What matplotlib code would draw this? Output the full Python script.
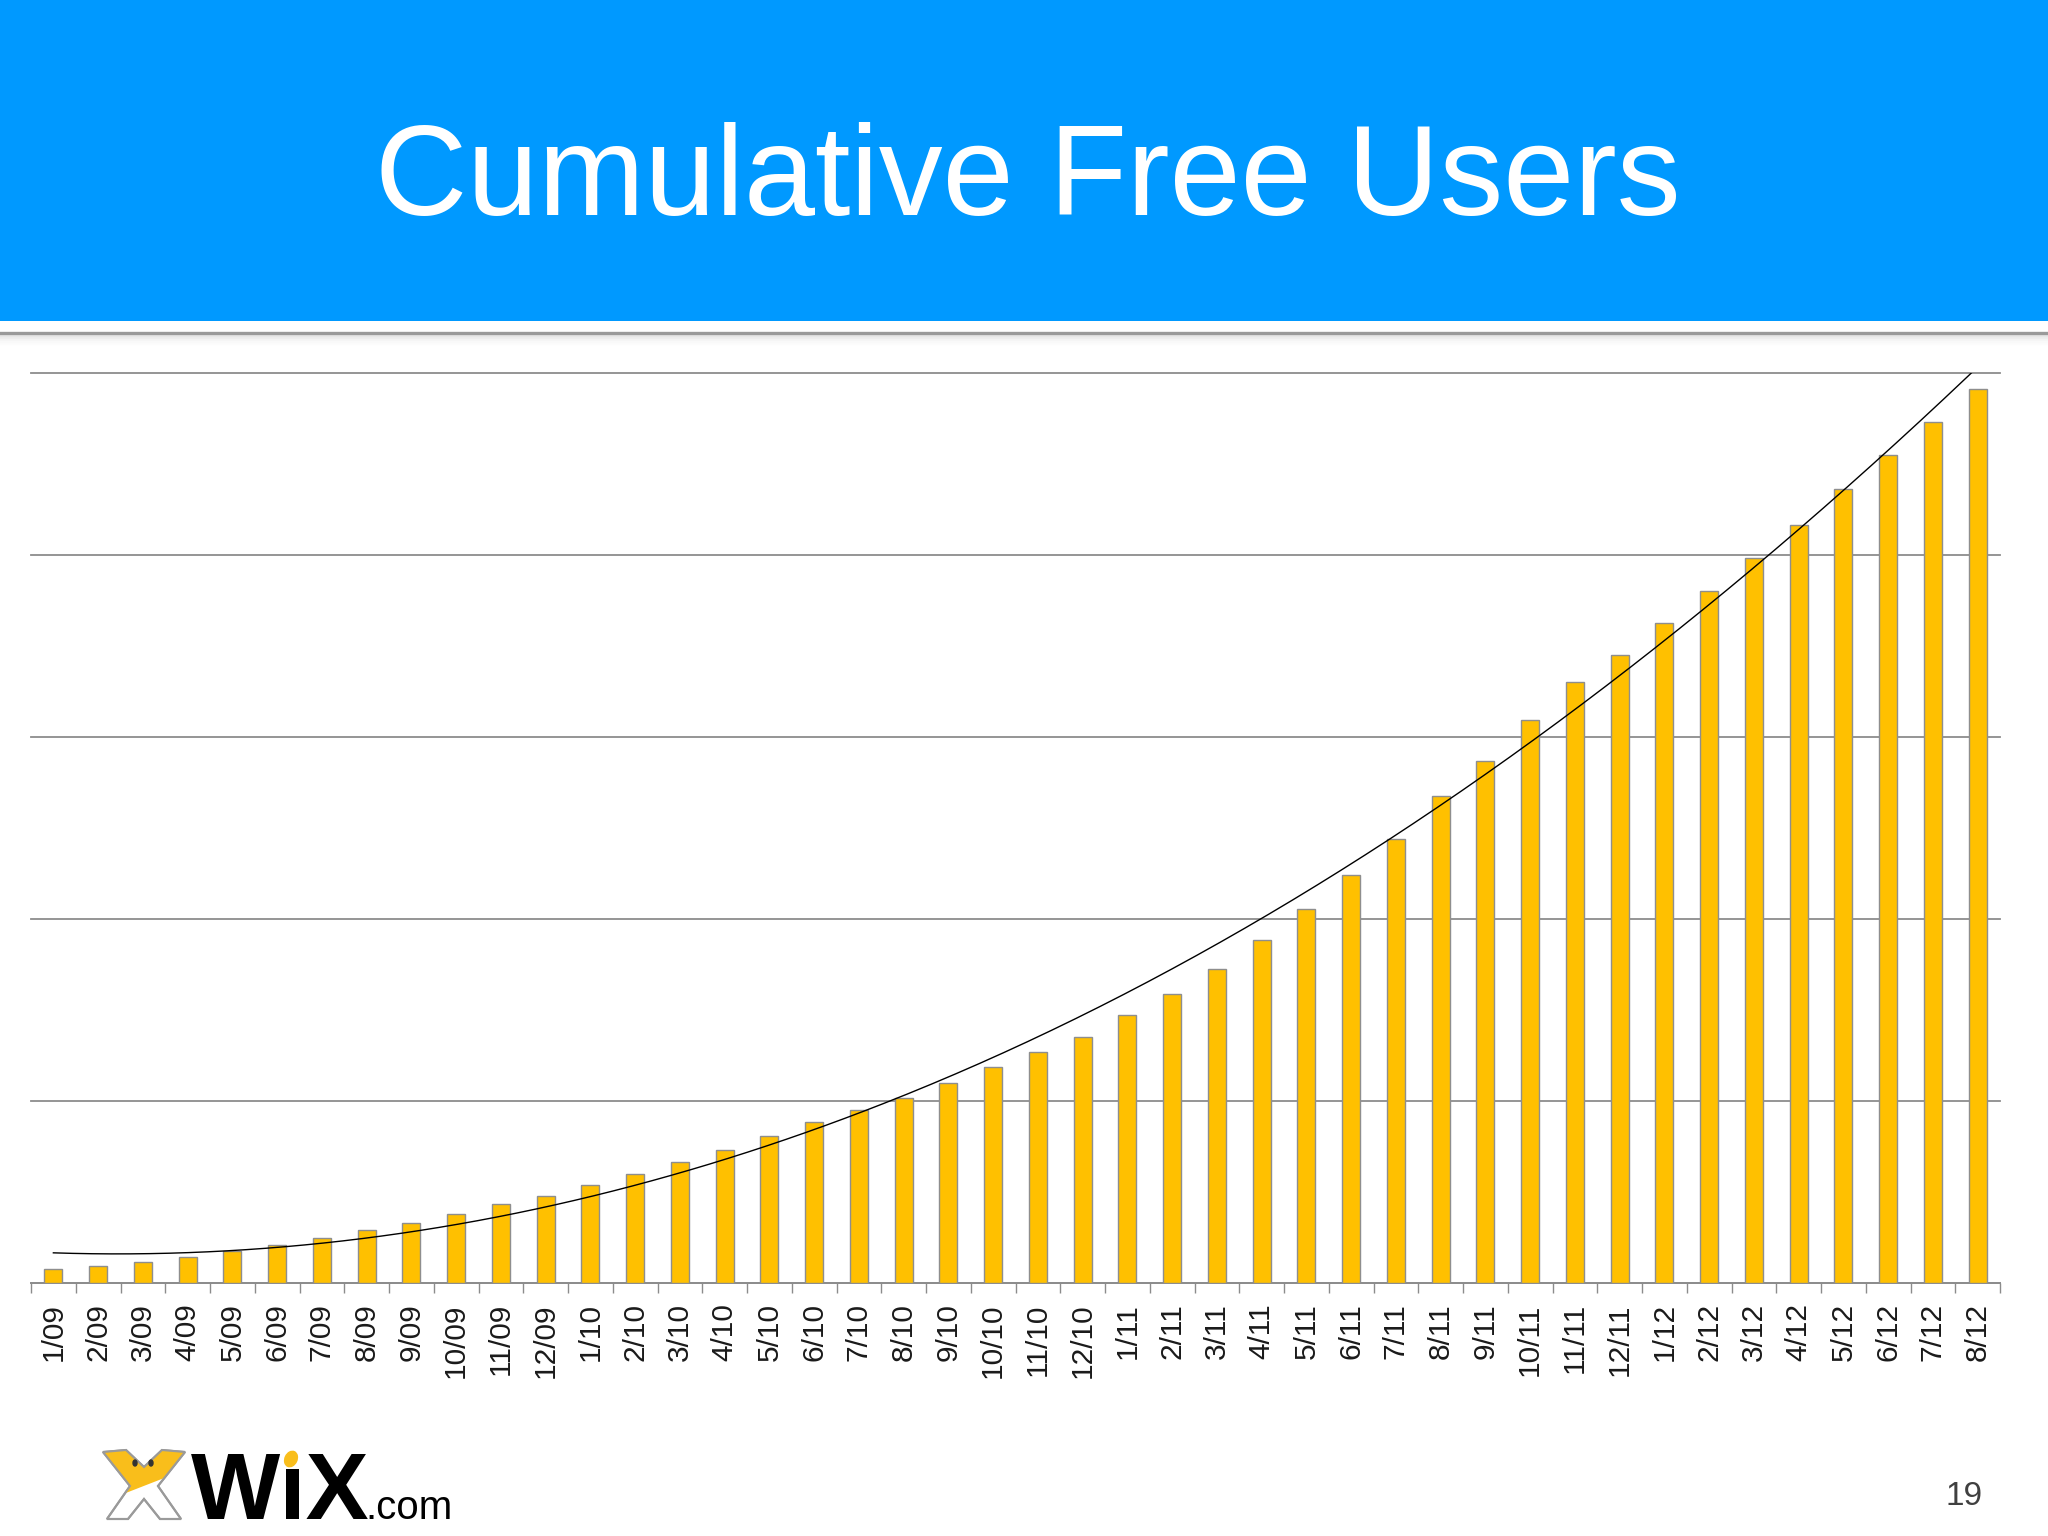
import numpy as np
import matplotlib
matplotlib.use("Agg")
import matplotlib.pyplot as plt
from matplotlib.patches import Rectangle, Polygon, Ellipse
from matplotlib.lines import Line2D

plt.rcParams['font.family'] = ['Liberation Sans', 'DejaVu Sans']

############################### DATA
# month labels, 1/09 .. 8/12
months = ['1/09', '2/09', '3/09', '4/09', '5/09', '6/09', '7/09', '8/09', '9/09', '10/09', '11/09', '12/09',
          '1/10', '2/10', '3/10', '4/10', '5/10', '6/10', '7/10', '8/10', '9/10', '10/10', '11/10', '12/10',
          '1/11', '2/11', '3/11', '4/11', '5/11', '6/11', '7/11', '8/11', '9/11', '10/11', '11/11', '12/11',
          '1/12', '2/12', '3/12', '4/12', '5/12', '6/12', '7/12', '8/12']

# cumulative free users (millions; no axis labels on the slide)
free_users = [0.77, 0.95, 1.17, 1.45, 1.76, 2.09, 2.49, 2.91, 3.30, 3.77, 4.32, 4.78,
              5.40, 6.01, 6.67, 7.31, 8.09, 8.83, 9.49, 10.18, 10.99, 11.85, 12.69, 13.53,
              14.73, 15.86, 17.25, 18.86, 20.53, 22.42, 24.37, 26.72, 28.66, 30.92, 32.98, 34.49,
              36.25, 37.98, 39.80, 41.63, 43.59, 45.49, 47.27, 49.10]

grid_levels = [0, 10, 20, 30, 40, 50]

title = 'Cumulative Free Users'
page_no = '19'

############################### FIGURE
W, H = 2048, 1536
fig = plt.figure(figsize=(W / 100, H / 100), dpi=100)
fig.patch.set_facecolor('white')


def fy(py):
    """pixel row (from top) -> figure fraction"""
    return 1 - py / H


# blue header band
fig.patches.append(Rectangle((0, fy(321)), 1, 1 - fy(321), transform=fig.transFigure,
                             facecolor='#0099FF', edgecolor='none', zorder=0))
# grey rule with a soft shadow underneath
for k, a in enumerate([0.18, 0.12, 0.07, 0.04, 0.02]):
    fig.lines.append(Line2D([0, 1], [fy(336 + k * 2), fy(336 + k * 2)], transform=fig.transFigure,
                            color='#808080', alpha=a, linewidth=1.6))
fig.lines.append(Line2D([0, 1], [fy(333), fy(333)], transform=fig.transFigure,
                        color='#9a9a9a', linewidth=2.4))

fig.text(0.502, fy(215), title, color='white', fontsize=92, ha='center', va='baseline')

############################### CHART
ax = fig.add_axes([31 / W, fy(1283), (2000 - 31) / W, (1283 - 372.5) / H])
x = np.arange(len(months))

ax.bar(x, free_users, width=0.4, color='#FFC000', edgecolor='#8E8E8E', linewidth=1.0, zorder=3)

# 2nd order polynomial trendline (least squares, like the spreadsheet's trendline)
coef = np.polyfit(x + 1, free_users, 2)
xs = np.linspace(0, len(months) - 1, 400)
ax.plot(xs, np.polyval(coef, xs + 1), color='black', linewidth=1.0, zorder=4)

ax.set_xlim(-0.5, len(months) - 0.5)
ax.set_ylim(0, grid_levels[-1])
ax.set_yticks(grid_levels)
ax.yaxis.grid(True, color='#8C8C8C', linewidth=1.3, zorder=0)
for gl in ax.get_ygridlines():
    gl.set_clip_on(False)
ax.tick_params(axis='y', left=False, labelleft=False)

ax.set_xticks(x)
ax.set_xticklabels(months, rotation=90, fontsize=21.5, color='#1a1a1a')
ax.tick_params(axis='x', which='major', length=0, pad=14.5)
ax.set_xticks(np.arange(-0.5, len(months), 1), minor=True)
ax.tick_params(axis='x', which='minor', length=7.5, width=1.0, color='#8C8C8C')

for side in ['top', 'left', 'right']:
    ax.spines[side].set_visible(False)
ax.spines['bottom'].set_color('#8C8C8C')
ax.spines['bottom'].set_linewidth(1.3)
ax.set_axisbelow(True)

############################### FOOTER (logo + page number), drawn in pixel coords
ov = fig.add_axes([0, 0, 1, 1], zorder=10)
ov.set_xlim(0, W)
ov.set_ylim(H, 0)
ov.axis('off')
ov.patch.set_alpha(0)

# little yellow/white X mascot
x_shape = [(103, 1452), (126, 1450), (144, 1467), (162, 1450), (185, 1452), (158, 1486),
           (181, 1519), (160, 1519), (144, 1499), (128, 1519), (107, 1519), (130, 1486)]
ov.add_patch(Polygon(x_shape, closed=True, facecolor='white', edgecolor='#9a9a9a', linewidth=1.5))
yellow = Polygon(x_shape, closed=True, facecolor='#F9BE1B', edgecolor='none')
ov.add_patch(yellow)
upper = Polygon([(95, 1440), (195, 1440), (195, 1466), (95, 1505)], closed=True,
                transform=ov.transData)
yellow.set_clip_path(upper)
ov.add_patch(Polygon(x_shape, closed=True, facecolor='none', edgecolor='#9a9a9a', linewidth=1.5))
for ex in (135, 151):
    ov.add_patch(Ellipse((ex, 1463), 4, 6, color='#333333'))

ov.text(191, 1519, 'W\u0131X', fontsize=68, fontweight='bold', color='black', ha='left', va='baseline')
ov.add_patch(Ellipse((291, 1459), 12, 16, angle=25, color='#F9BE1B'))
ov.text(365, 1519, '.com', fontsize=29, color='black', ha='left', va='baseline')

ov.text(1964, 1505, page_no, fontsize=24, color='#404040', ha='center', va='baseline')

fig.savefig('out.png', dpi=100)
